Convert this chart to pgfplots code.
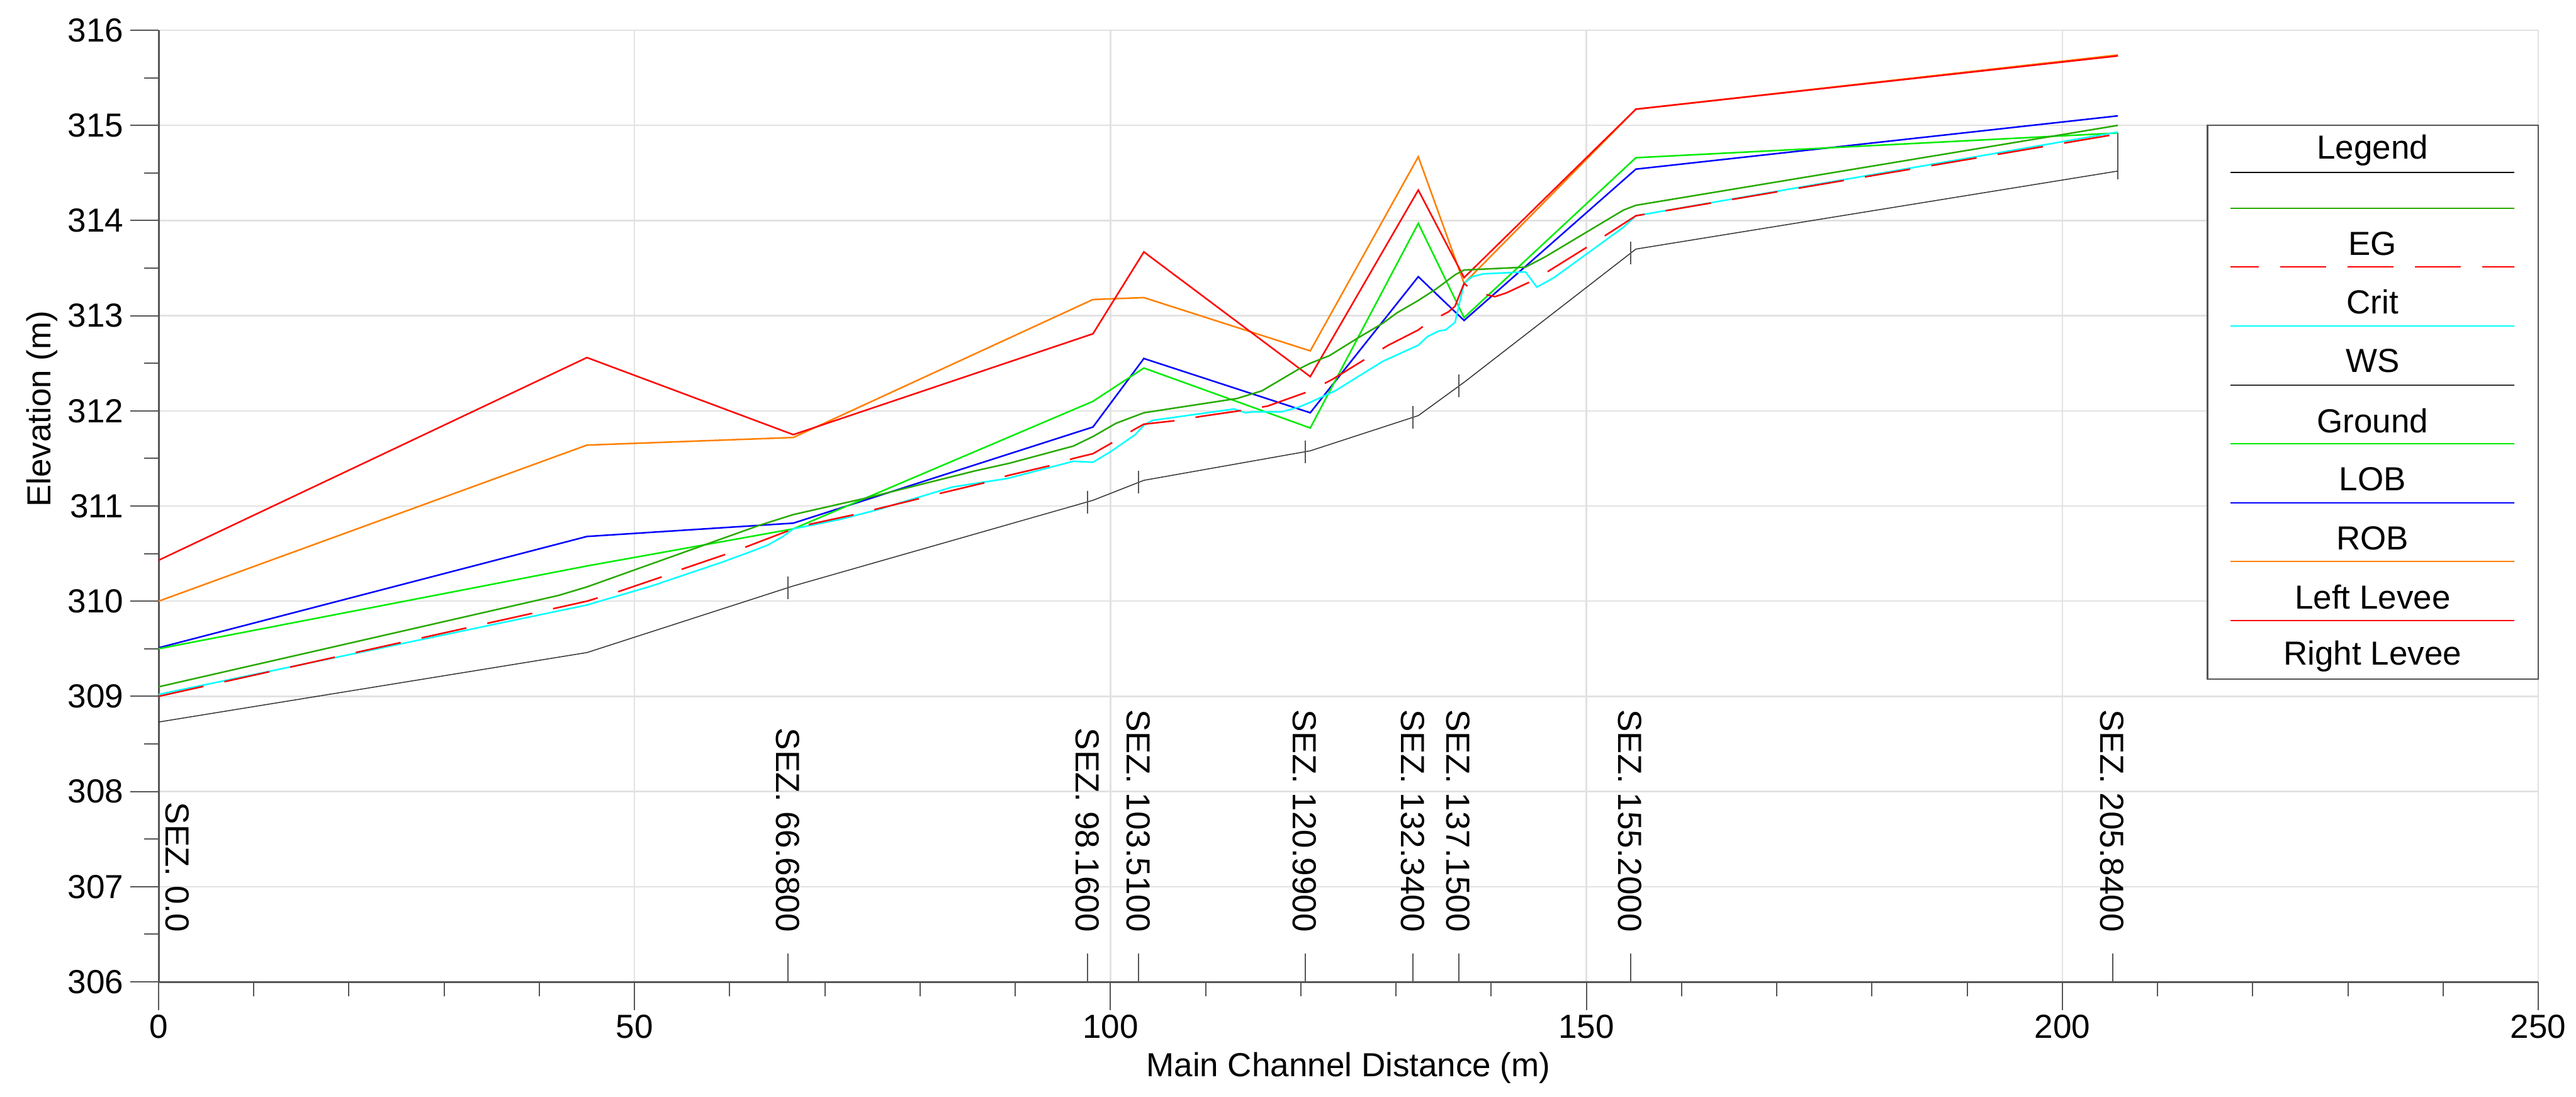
\documentclass[border=0pt]{standalone}
\usepackage{fontspec}
\setmainfont{Liberation Sans}
\usepackage{pgfplots}
\pgfplotsset{compat=1.18}

\definecolor{egreen}{RGB}{40,170,0}
\definecolor{lime}{RGB}{0,235,0}
\definecolor{orng}{RGB}{255,128,0}
\definecolor{cyn}{RGB}{0,255,255}
\definecolor{axgray}{RGB}{85,85,85}
\definecolor{gridgray}{RGB}{226,226,226}

\begin{document}
\begin{tikzpicture}[font=\fontsize{5.3}{6.4}\selectfont]
\begin{axis}[
    name=ax,
    scale only axis, width=378.1pt, height=151.2pt,
    xmin=0, xmax=250, ymin=306, ymax=316,
    axis x line*=bottom, axis y line*=left,
    axis line style={-, draw=axgray, line width=0.3pt},
    xtick={0,50,...,250}, minor x tick num=4,
    ytick={306,307,...,316}, minor y tick num=1,
    tick align=outside, major tick length=4.5pt, minor tick length=2.3pt,
    tick style={axgray, line width=0.2pt},
    grid=major, major grid style={gridgray, line width=0.25pt},
    /pgf/number format/assume math mode=true,
    ticklabel style={font=\fontsize{5.3}{6.4}\selectfont},
    xticklabel style={anchor=north, inner sep=0pt},
    yticklabel style={anchor=east, inner sep=0pt},
    xticklabel shift=0.5pt, yticklabel shift=0.9pt,
    xlabel={Main Channel Distance (m)},
    ylabel={Elevation (m)},
    every axis x label/.style={at={(rel axis cs:0.5,-0.0906)}, anchor=center},
    every axis y label/.style={at={(rel axis cs:-0.0489,0.602)}, anchor=center, rotate=90},
    clip mode=individual,
]

% section marks at the bottom
\addplot[only marks, mark=|, mark size=2.25pt, axgray, mark options={line width=0.2pt}]
coordinates {(66.13,306.15) (97.61,306.15) (102.96,306.15) (120.44,306.15)
  (131.79,306.15) (136.6,306.15) (154.65,306.15) (205.29,306.15)};

% Ground
\addplot[black!80, line width=0.15pt] coordinates {
  (0,308.73) (45,309.46) (66.68,310.16) (98.16,311.06) (103.51,311.27)
  (120.99,311.58) (132.34,311.95) (137.15,312.30) (155.2,313.70) (205.84,314.52)};
\addplot[only marks, mark=|, mark size=1.8pt, axgray, mark options={line width=0.2pt}]
coordinates {(66.13,310.14) (97.61,311.04) (102.96,311.25) (120.44,311.57)
  (131.79,311.93) (136.6,312.26) (154.65,313.66)};
\addplot[axgray, line width=0.2pt] coordinates {(205.84,314.43) (205.84,314.92)};

% ROB (orange)
\addplot[orng, line width=0.25pt] coordinates {
  (0,310.00) (45,311.64) (66.68,311.72) (98.16,313.17) (103.51,313.19)
  (120.99,312.63) (132.34,314.67) (137.15,313.34) (155.2,315.17) (205.84,315.74)};

% levee (red)
\addplot[red, line width=0.25pt] coordinates {
  (0,310.43) (45,312.56) (66.68,311.75) (98.16,312.81) (103.51,313.67)
  (120.99,312.36) (132.34,314.32) (137.15,313.40) (155.2,315.17) (205.84,315.73)};

% blue
\addplot[blue, line width=0.25pt] coordinates {
  (0,309.51) (45,310.68) (66.68,310.82) (98.16,311.83) (103.51,312.55)
  (120.99,311.98) (132.34,313.41) (137.15,312.95) (155.2,314.54) (205.84,315.10)};

% lime
\addplot[lime, line width=0.25pt] coordinates {
  (0,309.50) (45,310.37) (66.68,310.76) (98.16,312.10) (103.51,312.45)
  (120.99,311.82) (132.34,313.97) (137.15,312.98) (155.2,314.66) (205.84,314.92)};

% EG (dark green)
\addplot[egreen, line width=0.25pt] coordinates {
  (0,309.10) (42,310.06) (45,310.15) (57.6,310.60) (63.2,310.80) (66.68,310.91)
  (74.6,311.09) (85.8,311.37) (89.4,311.45) (96.1,311.63) (98.16,311.73)
  (100.6,311.87) (103.51,311.98) (113.3,312.13) (115.9,312.21) (119.8,312.44)
  (120.99,312.50) (123.0,312.58) (125.9,312.76) (128.6,312.92) (130.1,313.03)
  (132.34,313.16) (134.2,313.28) (136.2,313.43) (137.15,313.48) (143.6,313.51)
  (145.7,313.62) (153.9,314.11) (155.2,314.16) (205.84,315.00)};

% cyan
\addplot[cyn, line width=0.25pt] coordinates {
  (0,309.02) (45,309.96) (51.8,310.16) (59.2,310.41) (62.2,310.52) (64.0,310.59)
  (65.6,310.68) (66.68,310.76) (71.6,310.86) (75.5,310.96) (83.4,311.20)
  (89.2,311.29) (96.1,311.47) (98.16,311.46) (100.0,311.57) (102.6,311.75)
  (103.51,311.85) (104.4,311.90) (113.0,312.02) (114.2,311.98) (115.0,311.99)
  (118.0,311.99) (119.8,312.04) (120.99,312.09) (123.6,312.21) (128.6,312.52)
  (132.34,312.69) (133.3,312.78) (134.5,312.84) (135.2,312.85) (136.2,312.93)
  (137.15,313.34) (138.0,313.41) (139.2,313.44) (143.6,313.46) (144.8,313.30)
  (146.6,313.40) (153.9,313.93) (155.2,314.05) (205.84,314.93)};

% Crit (red dashed)
\addplot[red, line width=0.25pt, dash pattern=on 7.3pt off 3.4pt] coordinates {
  (0,309.00) (45,310.00) (48.3,310.10) (52.7,310.25) (55.1,310.34) (59.5,310.49)
  (61.7,310.57) (66.68,310.76) (68.5,310.81) (73.1,310.91) (75.5,310.97)
  (80.0,311.08) (82.4,311.14) (87.0,311.25) (89.2,311.32) (93.9,311.43)
  (96.1,311.50) (98.16,311.55) (100.6,311.69) (102.6,311.81) (103.51,311.86)
  (107.1,311.90) (109.4,311.94) (114.2,312.01) (116.5,312.05) (120.99,312.21)
  (123.3,312.33) (127.2,312.57) (129.2,312.69) (132.34,312.85) (133.4,312.93)
  (135.5,313.04) (136.2,313.10) (137.15,313.34) (138.2,313.25) (140.4,313.20)
  (141.6,313.24) (144.6,313.38) (150.7,313.76) (155.2,314.05) (205.84,314.91)};

% section names
\begin{scope}[every node/.style={rotate=-90, anchor=east, inner sep=0pt}]
\node at (axis cs:2.0,306.51) {SEZ. 0.0};
\node at (axis cs:66.08,306.51) {SEZ. 66.6800};
\node at (axis cs:97.56,306.51) {SEZ. 98.1600};
\node at (axis cs:102.91,306.51) {SEZ. 103.5100};
\node at (axis cs:120.39,306.51) {SEZ. 120.9900};
\node at (axis cs:131.74,306.51) {SEZ. 132.3400};
\node at (axis cs:136.55,306.51) {SEZ. 137.1500};
\node at (axis cs:154.6,306.51) {SEZ. 155.2000};
\node at (axis cs:205.24,306.51) {SEZ. 205.8400};
\end{scope}

% legend box
\draw[axgray, line width=0.25pt, fill=white] (rel axis cs:0.861,0.318) rectangle (rel axis cs:1,0.900);
\draw[black, line width=0.15pt] (rel axis cs:0.8707,0.8505) -- (rel axis cs:0.990,0.8505);
\draw[egreen, line width=0.25pt] (rel axis cs:0.8707,0.8128) -- (rel axis cs:0.990,0.8128);
\draw[red, line width=0.25pt, dash pattern=on 7.3pt off 3.4pt, dash phase=2.8pt] (rel axis cs:0.8707,0.7513) -- (rel axis cs:0.990,0.7513);
\draw[cyn, line width=0.25pt] (rel axis cs:0.8707,0.6892) -- (rel axis cs:0.990,0.6892);
\draw[black!80, line width=0.15pt] (rel axis cs:0.8707,0.6270) -- (rel axis cs:0.990,0.6270);
\draw[lime, line width=0.25pt] (rel axis cs:0.8707,0.5655) -- (rel axis cs:0.990,0.5655);
\draw[blue, line width=0.25pt] (rel axis cs:0.8707,0.5033) -- (rel axis cs:0.990,0.5033);
\draw[orng, line width=0.25pt] (rel axis cs:0.8707,0.4418) -- (rel axis cs:0.990,0.4418);
\draw[red, line width=0.25pt] (rel axis cs:0.8707,0.3796) -- (rel axis cs:0.990,0.3796);
\node at (rel axis cs:0.9304,0.8737) {Legend};
\node at (rel axis cs:0.9304,0.7758) {EG};
\node at (rel axis cs:0.9304,0.7143) {Crit};
\node at (rel axis cs:0.9304,0.6528) {WS};
\node at (rel axis cs:0.9304,0.5899) {Ground};
\node at (rel axis cs:0.9304,0.5284) {LOB};
\node at (rel axis cs:0.9304,0.4663) {ROB};
\node at (rel axis cs:0.9304,0.4041) {Left Levee};
\node at (rel axis cs:0.9304,0.3419) {Right Levee};
\end{axis}
\pgfresetboundingbox
\path ([shift={(-25.2pt,-18.2pt)}]ax.south west) rectangle ([shift={(6pt,4.8pt)}]ax.north east);
\end{tikzpicture}
\end{document}
